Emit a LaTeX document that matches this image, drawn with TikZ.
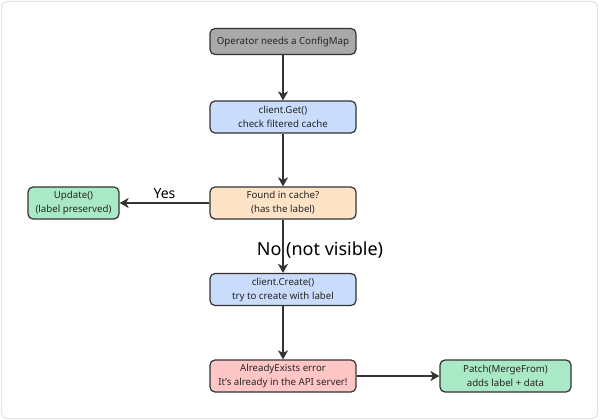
\documentclass[tikz,border=0pt]{standalone}
\usepackage{fontspec}
\setmainfont{Noto Sans}
\usepackage{tikz}
\usepackage{xcolor}
\usetikzlibrary{arrows.meta,positioning,calc}
\definecolor{ink}{HTML}{333333}
\definecolor{frame}{HTML}{E3E3E3}
\definecolor{graybg}{HTML}{A9A9A9}
\definecolor{bluebg}{HTML}{C9DCFC}
\definecolor{peachbg}{HTML}{FFE3C6}
\definecolor{mintbg}{HTML}{A9E9C5}
\definecolor{pinkbg}{HTML}{FFC6C6}
\tikzset{
  flowbox/.style={draw=ink,line width=1.2pt,rounded corners=5pt,
                  minimum width=146pt,minimum height=32pt,
                  align=center,inner sep=2pt,text=black!85,
                  font=\fontsize{9.7}{14}\selectfont},
  startbox/.style={flowbox,fill=graybg,minimum height=26pt},
  stepbox/.style={flowbox,fill=bluebg},
  askbox/.style={flowbox,fill=peachbg},
  okbox/.style={flowbox,fill=mintbg},
  errbox/.style={flowbox,fill=pinkbg},
  flowarr/.style={-{Stealth[length=9pt,width=10pt,inset=2.5pt]},line width=1.4pt,color=ink},
  edgelabel/.style={text=black,inner sep=1pt}
}

\begin{document}
\begin{tikzpicture}[x=1pt,y=-1pt]
  \useasboundingbox (0,0) rectangle (600,420);
  \draw[frame,line width=1pt,rounded corners=6pt,fill=white] (1.5,1.5) rectangle (597.5,418.5);
  % main column
  \node[startbox] (need) at (283,41.5) {Operator needs a ConfigMap};
  \node[stepbox] (get) at (283,117) {client.Get()\\check filtered cache};
  \node[askbox] (found) at (283,203) {Found in cache?\\(has the label)};
  \node[stepbox] (create) at (283,289.5) {client.Create()\\try to create with label};
  \node[errbox] (exists) at (283,376) {AlreadyExists error\\It's already in the API server!};
  % side results
  \node[okbox,minimum width=91pt] (update) at (73.5,203) {Update()\\(label preserved)};
  \node[okbox,minimum width=131pt] (patch) at (505.5,376) {Patch(MergeFrom)\\adds label + data};
  \draw[flowarr] (need)--(get);
  \draw[flowarr] (get)--(found);
  \draw[flowarr] (found)--node[edgelabel,font=\fontsize{14}{16}\selectfont,above,yshift=3pt] {Yes}(update);
  \draw[flowarr] (found)--node[edgelabel,font=\fontsize{18}{20}\selectfont,xshift=37pt,yshift=-3.5pt] {No (not visible)}(create);
  \draw[flowarr] (create)--(exists);
  \draw[flowarr] (exists)--(patch);
\end{tikzpicture}
\end{document}
